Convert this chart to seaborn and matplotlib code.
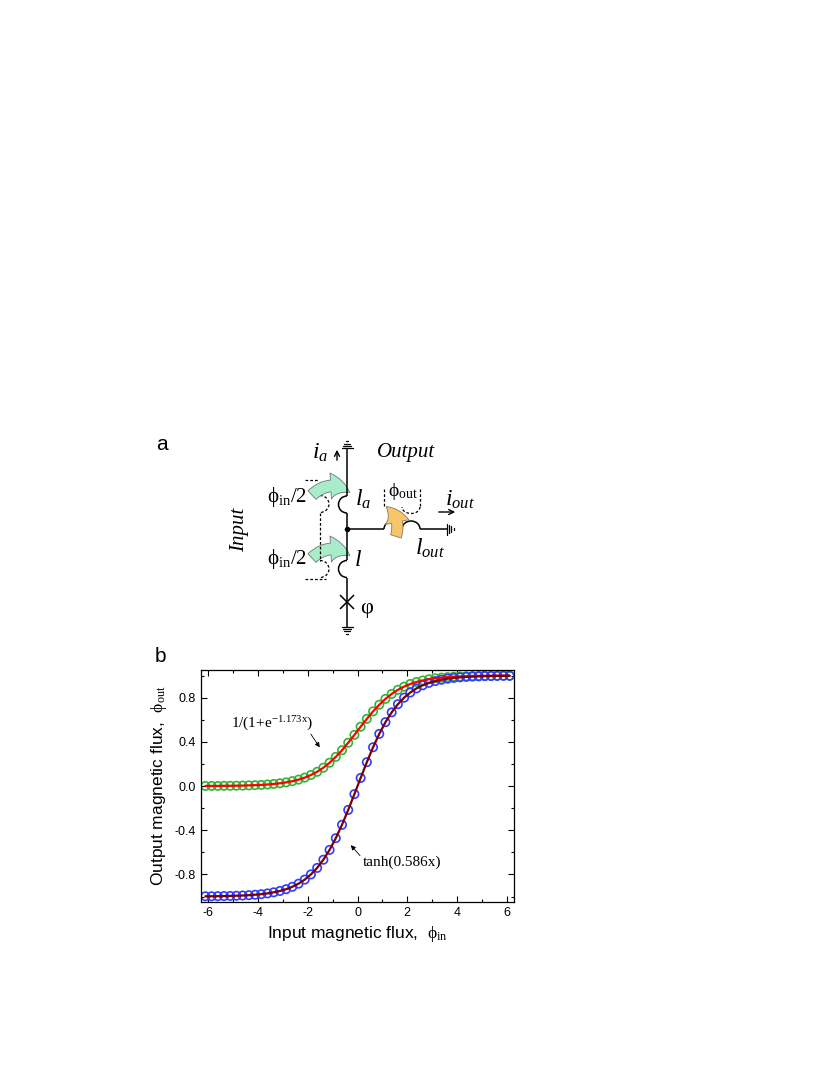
import numpy as np
import matplotlib
matplotlib.use("Agg")
import matplotlib.pyplot as plt
import seaborn as sns
from matplotlib.patches import Arc, FancyArrowPatch
from matplotlib.ticker import AutoMinorLocator, MultipleLocator

# data -----------------------------------------------
phi_in = [-6.125, -5.875, -5.625, -5.375, -5.125, -4.875, -4.625, -4.375, -4.125,
          -3.875, -3.625, -3.375, -3.125, -2.875, -2.625, -2.375, -2.125, -1.875,
          -1.625, -1.375, -1.125, -0.875, -0.625, -0.375, -0.125,
          0.125, 0.375, 0.625, 0.875, 1.125, 1.375, 1.625, 1.875, 2.125, 2.375,
          2.625, 2.875, 3.125, 3.375, 3.625, 3.875, 4.125, 4.375, 4.625, 4.875,
          5.125, 5.375, 5.625, 5.875, 6.125]

# green circles / red fit : 1/(1+e^(-1.173x))
out_sig = [0.001, 0.001, 0.001, 0.002, 0.002, 0.003, 0.004, 0.006, 0.008, 0.010,
           0.014, 0.019, 0.025, 0.033, 0.044, 0.058, 0.076, 0.100, 0.129, 0.166,
           0.211, 0.264, 0.324, 0.392, 0.463,
           0.537, 0.608, 0.676, 0.736, 0.789, 0.834, 0.871, 0.900, 0.924, 0.942,
           0.956, 0.967, 0.975, 0.981, 0.986, 0.990, 0.992, 0.994, 0.996, 0.997,
           0.998, 0.998, 0.999, 0.999, 0.999]

# blue circles / dark red fit : tanh(0.586x)
out_tanh = [-0.998, -0.998, -0.997, -0.996, -0.995, -0.993, -0.991, -0.988, -0.984,
            -0.979, -0.972, -0.962, -0.950, -0.934, -0.912, -0.884, -0.847, -0.800,
            -0.741, -0.667, -0.578, -0.472, -0.351, -0.216, -0.073,
            0.073, 0.216, 0.351, 0.472, 0.578, 0.667, 0.741, 0.800, 0.847, 0.884,
            0.912, 0.934, 0.950, 0.962, 0.972, 0.979, 0.984, 0.988, 0.991, 0.993,
            0.995, 0.996, 0.997, 0.998, 0.998]

sns.set_theme(style="ticks")
plt.rcParams['font.family'] = ['Liberation Sans', 'DejaVu Sans']
plt.rcParams['text.color'] = 'black'
plt.rcParams['mathtext.fontset'] = 'custom'
plt.rcParams['mathtext.rm'] = 'Liberation Serif'
plt.rcParams['mathtext.it'] = 'Liberation Serif:italic'
plt.rcParams['mathtext.bf'] = 'Liberation Serif:bold'
plt.rcParams['axes.unicode_minus'] = False

fig = plt.figure(figsize=(8.3, 10.75), dpi=100)

# panel a : circuit, drawn in pixel coords --------------
ca = fig.add_axes([0, 0, 1, 1])
ca.set_xlim(0, 830)
ca.set_ylim(1075, 0)
ca.axis('off')
ca.patch.set_visible(False)

k = dict(color='black', lw=1.1, solid_capstyle='butt')
dsh = dict(color='black', lw=0.9, ls=(0, (2.2, 1.6)))
X0 = 347

# main vertical wire
ca.plot([X0, X0], [448, 496], **k)
ca.add_patch(Arc((X0, 504.5), 17, 17, theta1=90, theta2=270, color='black', lw=1.1))
ca.plot([X0, X0], [513, 560], **k)
ca.add_patch(Arc((X0, 569), 17, 17, theta1=90, theta2=270, color='black', lw=1.1))
ca.plot([X0, X0], [577.5, 627], **k)
ca.plot([X0], [528.5], 'o', color='black', ms=3)

# grounds
for dy, hw in [(0, 5.5), (-2.2, 4), (-4.4, 2.6), (-6.6, 1.3)]:
    ca.plot([X0 - hw, X0 + hw], [448 + dy, 448 + dy], color='black', lw=0.9)
for dy, hw in [(0, 5.5), (2.2, 4), (4.4, 2.6), (6.6, 1.3)]:
    ca.plot([X0 - hw, X0 + hw], [627 + dy, 627 + dy], color='black', lw=0.9)
for dx, hh in [(0, 5.5), (2.2, 4), (4.4, 2.6), (6.6, 1.3)]:
    ca.plot([447 + dx, 447 + dx], [529 - hh, 529 + hh], color='black', lw=0.9)

# junction cross
ca.plot([X0 - 7, X0 + 7], [595, 609], **k)
ca.plot([X0 - 7, X0 + 7], [609, 595], **k)

# output branch
ca.plot([X0, 384], [529, 529], **k)
ca.add_patch(Arc((393, 529), 18, 16, theta1=180, theta2=360, color='black', lw=1.1))
ca.add_patch(Arc((411, 529), 18, 16, theta1=180, theta2=360, color='black', lw=1.1))
ca.plot([420, 447], [529, 529], **k)

# dashed flux loops
ca.plot([305, 318], [480, 480], **dsh)
ca.add_patch(Arc((320, 504), 18, 17, theta1=-90, theta2=90, color='black', lw=0.9, ls=(0, (2.2, 1.6))))
ca.plot([320, 320], [512.5, 560.5], **dsh)
ca.add_patch(Arc((320, 569), 18, 17, theta1=-90, theta2=90, color='black', lw=0.9, ls=(0, (2.2, 1.6))))
ca.plot([305, 326], [579, 579], **dsh)
ca.plot([384, 384], [489, 506], **dsh)
ca.plot([420, 420], [489, 507], **dsh)
ca.add_patch(Arc((411, 507), 18, 13, theta1=0, theta2=180, color='black', lw=0.9, ls=(0, (2.2, 1.6))))

# curved flux arrows
for yy in (494, 557):
    ca.add_patch(FancyArrowPatch((310, yy + 3), (352, yy), connectionstyle='arc3,rad=-0.45',
                                 arrowstyle='simple,head_width=1.1,head_length=0.85,tail_width=0.5',
                                 mutation_scale=17, fc='#a9ecc9', ec='#6a7a70', lw=0.6))
ca.add_patch(FancyArrowPatch((395, 539), (384, 505), connectionstyle='arc3,rad=0.4',
                             arrowstyle='simple,head_width=1.1,head_length=0.85,tail_width=0.5',
                             mutation_scale=16, fc='#f7c56c', ec='#8a7a60', lw=0.6))

# current arrows
ca.annotate('', xy=(337, 447), xytext=(337, 463),
            arrowprops=dict(arrowstyle='->', lw=1.0, color='black', mutation_scale=9))
ca.annotate('', xy=(458, 512), xytext=(436, 512),
            arrowprops=dict(arrowstyle='->', lw=1.0, color='black', mutation_scale=9))

serif = ['Liberation Serif', 'DejaVu Serif']
ca.text(162, 445, 'a', fontsize=15, ha='center', va='center')
ca.text(320, 453, r'$i_a$', fontsize=17, ha='center', va='center')
ca.text(406, 452, 'Output', fontsize=15, family=serif, style='italic', ha='center', va='center')
ca.text(240, 530, 'Input', fontsize=15, family=serif, style='italic', rotation=90,
        ha='center', va='center')
ca.text(287, 497, r'$\mathrm{\phi_{in}/2}$', fontsize=15, ha='center', va='center')
ca.text(287, 559, r'$\mathrm{\phi_{in}/2}$', fontsize=15, ha='center', va='center')
ca.text(363, 499, r'$l_a$', fontsize=17, ha='center', va='center')
ca.text(358, 560, r'$l$', fontsize=17, ha='center', va='center')
ca.text(403, 492, r'$\mathrm{\phi_{out}}$', fontsize=14, ha='center', va='center')
ca.text(460, 500, r'$i_{out}$', fontsize=17, ha='center', va='center')
ca.text(430, 548, r'$l_{out}$', fontsize=17, ha='center', va='center')
ca.text(367, 608, 'φ', fontsize=16, family=serif, ha='center', va='center')

# panel b : transfer curves ---------------------------
ax = fig.add_axes([0.2422, 0.1609, 0.3771, 0.2158])
sns.scatterplot(x=phi_in, y=out_sig, marker='o', s=36, color='#33b333',
                facecolors='none', edgecolor='#33b333', linewidth=1.2, ax=ax)
sns.scatterplot(x=phi_in, y=out_tanh, marker='o', s=36, color='#2f3cff',
                facecolors='none', edgecolor='#2f3cff', linewidth=1.2, ax=ax)
sns.lineplot(x=phi_in, y=out_sig, color='#ff0000', lw=1.6, errorbar=None, ax=ax)
sns.lineplot(x=phi_in, y=out_tanh, color='#7a0000', lw=1.6, errorbar=None, ax=ax)

ax.set_xlim(-6.3, 6.3)
ax.set_ylim(-1.05, 1.05)
ax.xaxis.set_major_locator(MultipleLocator(2))
ax.yaxis.set_major_locator(MultipleLocator(0.4))
ax.xaxis.set_minor_locator(AutoMinorLocator(2))
ax.yaxis.set_minor_locator(AutoMinorLocator(2))
ax.tick_params(which='both', direction='in', top=True, right=True, labelsize=9,
               color='black', labelcolor='black', width=0.8)
ax.tick_params(which='major', length=4.5)
ax.tick_params(which='minor', length=2.5)
for sp in ax.spines.values():
    sp.set_color('black')
    sp.set_linewidth(0.9)
ax.set_xlabel(r'Input magnetic flux,  $\mathrm{\phi_{in}}$', fontsize=12.5, color='black')
ax.set_ylabel(r'Output magnetic flux,  $\mathrm{\phi_{out}}$', fontsize=12.5, color='black')

# fit labels with their pointer arrows
ax.text(-3.45, 0.56, r'$\mathrm{1/(1{+}e^{{-}1.173x})}$', fontsize=11, ha='center', va='center')
ax.annotate('', xy=(-1.52, 0.35), xytext=(-1.88, 0.47),
            arrowprops=dict(arrowstyle='-|>', lw=0.6, color='black', mutation_scale=7,
                            shrinkA=0, shrinkB=0))
ax.text(1.8, -0.69, 'tanh(0.586x)', fontsize=11, family=serif, ha='center', va='center')
ax.annotate('', xy=(-0.27, -0.535), xytext=(0.1, -0.63),
            arrowprops=dict(arrowstyle='-|>', lw=0.6, color='black', mutation_scale=7,
                            shrinkA=0, shrinkB=0))

fig.text(160 / 830, 1 - 657 / 1075, 'b', fontsize=15, ha='center', va='center')

fig.savefig('out.png', dpi=100)
